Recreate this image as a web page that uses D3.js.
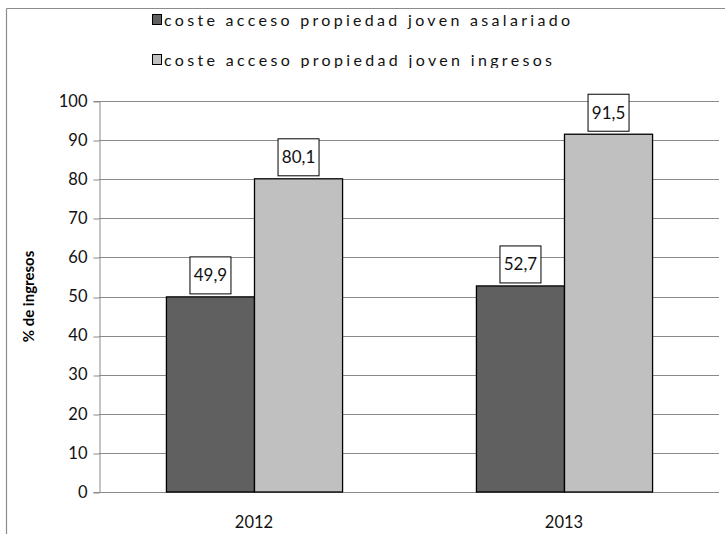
<!DOCTYPE html>
<html>
<head>
<meta charset="utf-8">
<script src="https://cdn.jsdelivr.net/npm/d3@7"></script>
<style>
  html, body { margin: 0; padding: 0; background: #fff; }
  svg { display: block; font-family: Lato, "Open Sans", sans-serif; }
</style>
</head>
<body>
<svg id="chart" width="725" height="534"></svg>
<script>
// Housing access cost for young people, % of income
const years = ["2012", "2013"];
const seriesNames = [
  "coste acceso propiedad joven asalariado",
  "coste acceso propiedad joven ingresos"
];
const asalariado = [49.9, 52.7];
const ingresos = [80.1, 91.5];
const yTicks = [0, 10, 20, 30, 40, 50, 60, 70, 80, 90, 100];
const yTitle = "% de ingresos";
const fills = ["#606060", "#c0c0c0"];

const svg = d3.select("#chart");
const margin = { left: 99, right: 6, top: 101, bottom: 42 };
const W = 725, H = 534;

// outer frame (top and left edges visible)
svg.append("line").attr("x1", 6.5).attr("x2", W).attr("y1", 8.5).attr("y2", 8.5)
  .attr("stroke", "#8c8c8c").attr("stroke-width", 1.2);
svg.append("line").attr("x1", 6.5).attr("x2", 6.5).attr("y1", 8.5).attr("y2", H)
  .attr("stroke", "#8c8c8c").attr("stroke-width", 1.2);

const x0 = d3.scaleBand().domain(years)
  .range([margin.left, W - margin.right]);
const x1 = d3.scaleBand().domain([0, 1])
  .range([0, x0.bandwidth()]).paddingOuter(0.76);
const y = d3.scaleLinear().domain([0, 100])
  .range([H - margin.bottom, margin.top]);

// grid
svg.append("g").selectAll("line").data(yTicks).join("line")
  .attr("x1", margin.left).attr("x2", W - margin.right)
  .attr("y1", d => Math.round(y(d)) + 0.5).attr("y2", d => Math.round(y(d)) + 0.5)
  .attr("stroke", "#8a8a8a").attr("stroke-width", 1);

// y axis
const yAxis = svg.append("g")
  .attr("transform", `translate(${margin.left + 0.5},0)`)
  .call(d3.axisLeft(y).tickValues(yTicks).tickSize(6).tickPadding(6).tickFormat(d3.format("d")));
yAxis.select(".domain").attr("stroke", "#8a8a8a");
yAxis.selectAll(".tick line").attr("stroke", "#8a8a8a")
  .attr("transform", (d) => `translate(0,${Math.round(y(d)) + 0.5 - y(d)})`);
yAxis.selectAll("text").attr("font-size", 16.5).attr("fill", "#111")
  .style("font-family", "Lato, 'Open Sans', sans-serif");

// bars
const data = years.map((yr, i) => ({ year: yr, vals: [asalariado[i], ingresos[i]] }));
const groups = svg.append("g").selectAll("g").data(data).join("g")
  .attr("transform", d => `translate(${x0(d.year)},0)`);

groups.selectAll("rect").data(d => d.vals.map((v, k) => ({ v, k }))).join("rect")
  .attr("x", d => x1(d.k) + 0.5)
  .attr("width", x1.bandwidth())
  .attr("y", d => y(d.v))
  .attr("height", d => y(0) - y(d.v))
  .attr("fill", d => fills[d.k])
  .attr("stroke", "#000").attr("stroke-width", 1.3);

// value labels in boxes
groups.each(function (d) {
  const g = d3.select(this);
  d.vals.forEach((v, k) => {
    const cx = x1(k) + x1.bandwidth() / 2 + 0.5;
    const boxW = 41, boxH = 37;
    const top = y(v) - 3 - boxH;
    g.append("rect")
      .attr("x", cx - boxW / 2).attr("y", top)
      .attr("width", boxW).attr("height", boxH)
      .attr("fill", "#fff").attr("stroke", "#000").attr("stroke-width", 1);
    g.append("text")
      .attr("x", cx).attr("y", top + boxH / 2 + 6)
      .attr("text-anchor", "middle").attr("font-size", 17)
      .attr("fill", "#111")
      .text(d3.format(".1f")(v).replace(".", ","));
  });
});

// x axis labels
svg.append("g").selectAll("text").data(years).join("text")
  .attr("x", d => x0(d) + x0.bandwidth() / 2)
  .attr("y", 528)
  .attr("text-anchor", "middle").attr("font-size", 16.5)
  .attr("fill", "#111")
  .text(d => d);

// y title
svg.append("text")
  .attr("transform", `translate(34,${(margin.top + H - margin.bottom) / 2}) rotate(-90)`)
  .attr("text-anchor", "middle").attr("font-size", 15).attr("font-weight", "bold")
  .text(yTitle);

// legend (clipped at the bottom edge)
svg.append("clipPath").attr("id", "legclip")
  .append("rect").attr("x", 0).attr("y", 10).attr("width", W).attr("height", 58);
const legend = svg.append("g").attr("clip-path", "url(#legclip)");
const legW = [406, 388];
seriesNames.forEach((name, i) => {
  const cy = 20 + i * 40;
  legend.append("rect")
    .attr("x", 152.5).attr("y", cy - 5.5).attr("width", 9).attr("height", 10)
    .attr("fill", fills[i]).attr("stroke", "#000").attr("stroke-width", 1);
  legend.append("text")
    .attr("x", 164).attr("y", cy + 6)
    .attr("font-size", 16).attr("fill", "#111")
    .attr("textLength", legW[i]).attr("lengthAdjust", "spacing")
    .text(name);
});
</script>
</body>
</html>
